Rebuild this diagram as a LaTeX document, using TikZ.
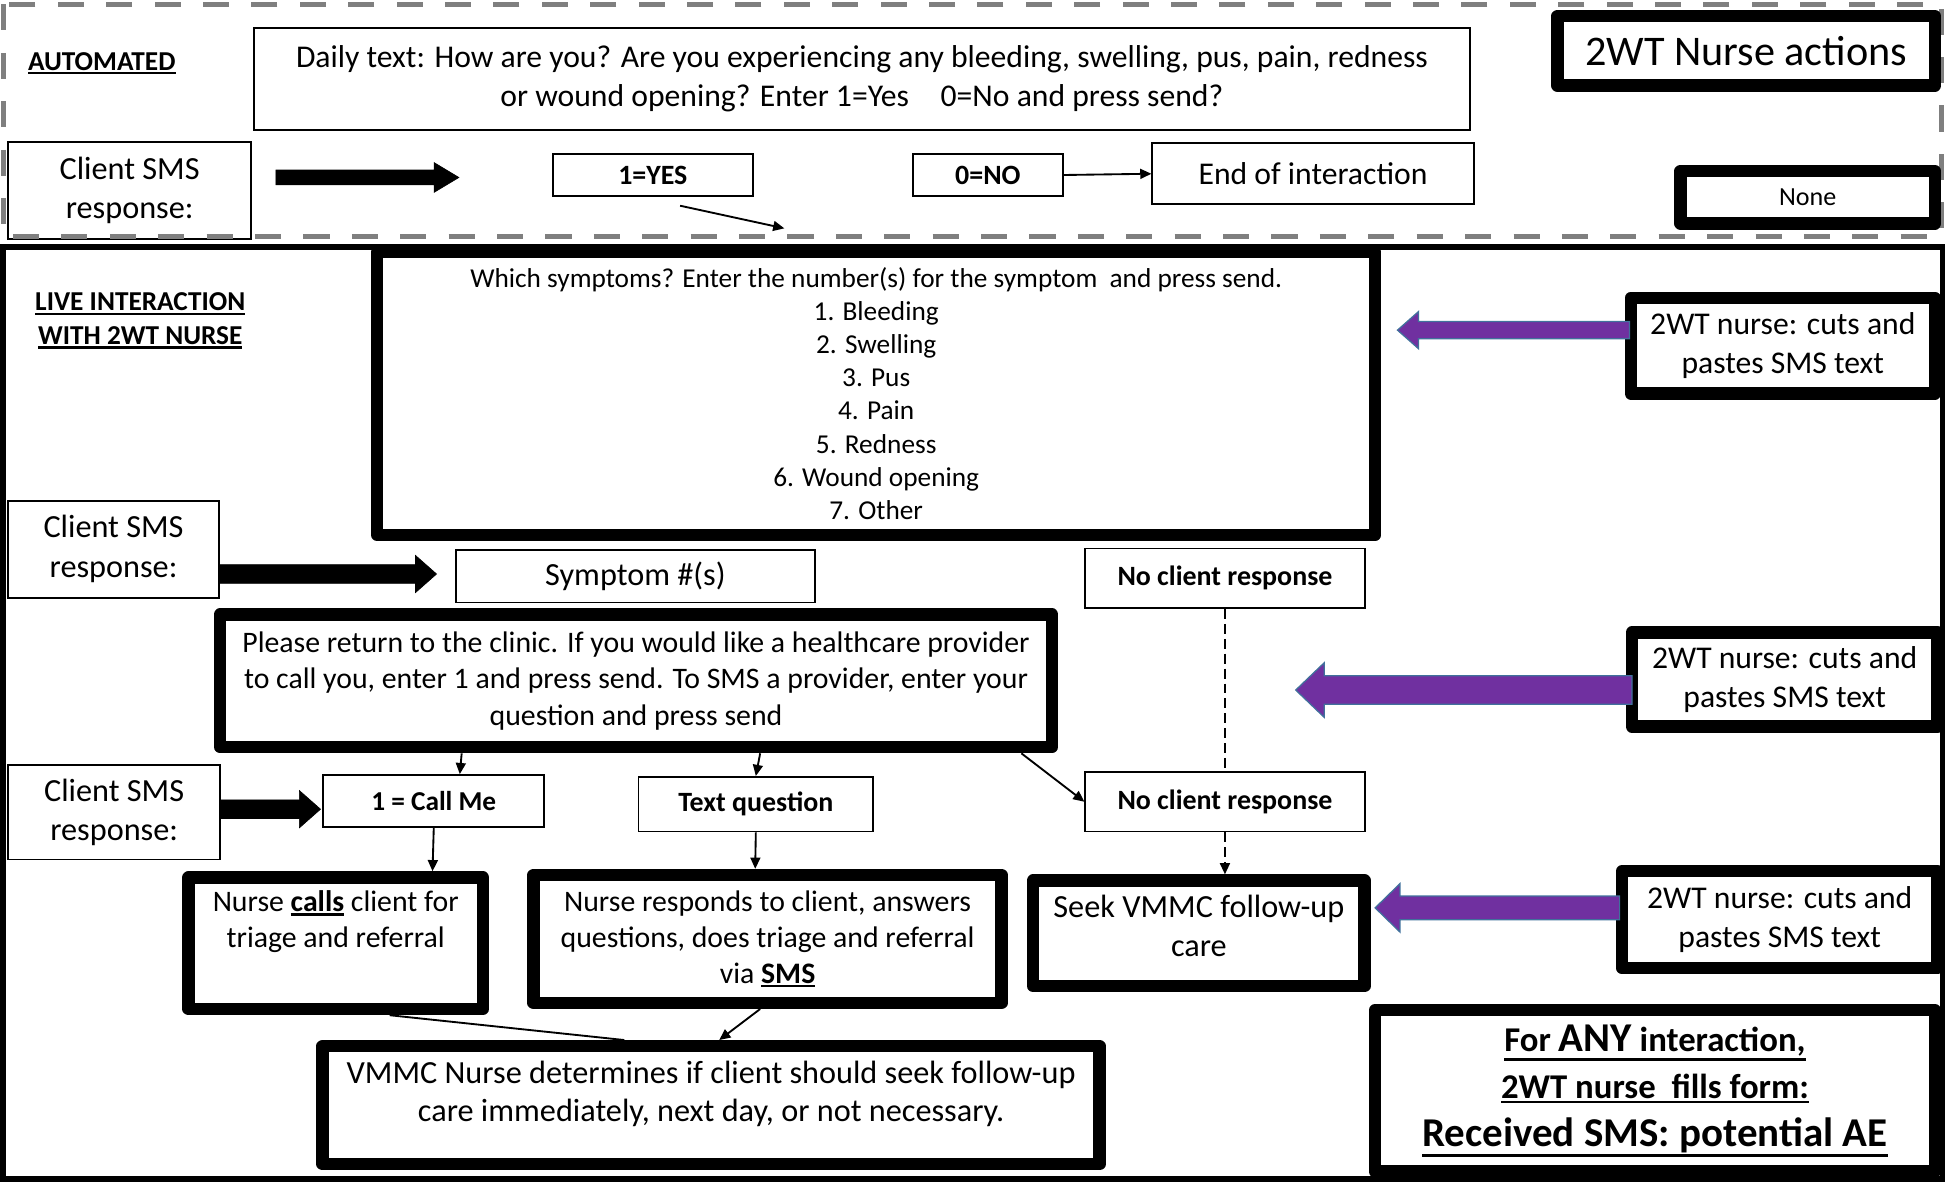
\documentclass[tikz,border=0pt]{standalone}
\usepackage{fontspec}
\setmainfont{Carlito}
\usetikzlibrary{arrows.meta,calc}
\definecolor{purp}{HTML}{7030A0}
\definecolor{purpedge}{HTML}{41719C}
\definecolor{dashgray}{HTML}{7F7F7F}
\newcommand\fsz[2]{\fontsize{#1}{#2}\selectfont}
% thicker underline placed below the text depth
\newcommand\ul[1]{\setbox0\hbox{#1}\leavevmode\rlap{\vrule height\dimexpr-\dp0-1.2pt\relax depth\dimexpr\dp0+3.2pt\relax width\wd0}\box0}
% horizontal block arrow: style, start, tip, shaft half, head half, signed head length
\newcommand\harrow[6]{%
  \filldraw[#1] let \p1=(#2), \p2=(#3) in
  (\x1,{\y1+#4}) -- ({\x2+(#6)},{\y1+#4}) -- ({\x2+(#6)},{\y1+#5}) -- (\x2,\y1)
  -- ({\x2+(#6)},{\y1-#5}) -- ({\x2+(#6)},{\y1-#4}) -- (\x1,{\y1-#4}) -- cycle;}
\begin{document}
\begin{tikzpicture}[x=1pt,y=-1pt,
  thin/.style={draw, line width=1.5pt, fill=white, align=center, inner sep=0pt},
  thickbox/.style={draw, line width=10pt, line join=round, fill=white, align=center, inner sep=0pt},
  lbl/.style={align=center, inner sep=0pt},
  conn/.style={line width=1.5pt, -{Triangle[length=9pt,width=8pt]}},
  dashconn/.style={line width=1.5pt, dash pattern=on 8pt off 4pt},
  blkarrow/.style={fill=black, draw=black, line width=0.5pt},
  parrow/.style={fill=purp, draw=purpedge, line width=1pt}]
\useasboundingbox (0,0) rectangle (1568,954);

% ---------- automated section ----------
\node[thin, minimum width=196pt, minimum height=78pt, font=\fsz{26}{32}] (csms1) at (104.5,153.5) {Client SMS\\response:};
\draw[dashgray, line width=4pt, dash pattern=on 21pt off 18pt] (2.5,3.5) rectangle (1564,190.5);
\draw[line width=4.5pt] (2.5,199) rectangle (1565,950);

\node[lbl, font=\bfseries\fsz{22}{25}] (auto) at (82,51) {\ul{AUTOMATED}};
\node[thin, minimum width=980pt, minimum height=82pt, font=\fsz{25.5}{32}] (daily) at (694.5,63.5)
  {Daily text: How are you? Are you experiencing any bleeding, swelling, pus, pain, redness\\or wound opening? Enter 1=Yes\quad 0=No and press send?};
\node[thickbox, minimum width=304pt, minimum height=56pt, font=\fsz{34}{40}] (actions) at (1407,41) {2WT Nurse actions};
\node[thin, minimum width=161pt, minimum height=34pt, font=\bfseries\fsz{22.5}{26}] (yesb) at (526,141) {1=YES};
\node[thin, minimum width=121pt, minimum height=34pt, font=\bfseries\fsz{22.5}{26}] (nob) at (796,141) {0=NO};
\node[thin, minimum width=259pt, minimum height=49pt, font=\fsz{25.5}{30}] (endi) at (1058,140) {End of interaction};
\node[thickbox, minimum width=205pt, minimum height=42pt, font=\fsz{21}{25}] (none) at (1456.5,159) {None};
\coordinate (yesend) at (632,184);

% ---------- live section ----------
\node[lbl, font=\bfseries\fsz{22}{27}] (live) at (113,258.5) {\ul{LIVE INTERACTION}\\\ul{WITH 2WT NURSE}};
\node[thickbox, minimum width=804pt, minimum height=228pt, font=\fsz{22}{26.7}] (symptoms) at (706,317)
  {Which symptoms? Enter the number(s) for the symptom\ \ and press send.\\1. Bleeding\\2. Swelling\\3. Pus\\4. Pain\\5. Redness\\6. Wound opening\\7. Other};
\node[thickbox, minimum width=245pt, minimum height=77pt, font=\fsz{25.5}{32}] (nurse1) at (1436.5,278.5) {2WT nurse: cuts and\\pastes SMS text};
\node[thin, minimum width=170pt, minimum height=78pt, font=\fsz{26}{32}] (csms2) at (91.5,442.5) {Client SMS\\response:};
\node[thin, minimum width=289pt, minimum height=42pt, font=\fsz{26}{30}] (symp) at (512,464.5) {Symptom \#(s)};
\node[thin, minimum width=225pt, minimum height=48pt, font=\bfseries\fsz{22.5}{26}] (ncr1) at (987,466) {No client response};
\node[thickbox, minimum width=670pt, minimum height=107pt, font=\fsz{24}{29.5}] (please) at (512.5,548.5)
  {Please return to the clinic. If you would like a healthcare provider\\to call you, enter 1 and press send. To SMS a provider, enter your\\question and press send};
\node[thickbox, minimum width=246pt, minimum height=76pt, font=\fsz{25.5}{32}] (nurse2) at (1438,547.5) {2WT nurse: cuts and\\pastes SMS text};
\node[thin, minimum width=171pt, minimum height=76pt, font=\fsz{26}{32}] (csms3) at (92,654.5) {Client SMS\\response:};
\node[thin, minimum width=178pt, minimum height=42pt, font=\bfseries\fsz{22}{26}] (call) at (349.5,645.5) {1 = Call Me};
\node[thin, minimum width=189pt, minimum height=44pt, font=\bfseries\fsz{22.5}{26}] (textq) at (609,648) {Text question};
\node[thin, minimum width=225pt, minimum height=48pt, font=\bfseries\fsz{22.5}{26}] (ncr2) at (987,646) {No client response};
\node[thickbox, minimum width=237pt, minimum height=106pt,
  label={[lbl, font=\fsz{24}{29}, yshift=17.5pt]center:{Nurse \textbf{\ul{calls}} client for\\triage and referral}}] (callsbox) at (270.5,760) {};
\node[thickbox, minimum width=377pt, minimum height=103pt, font=\fsz{24}{29}] (responds) at (618.5,756.5)
  {Nurse responds to client, answers\\questions, does triage and referral\\via \textbf{\ul{SMS}}};
\node[thickbox, minimum width=267pt, minimum height=85pt,
  label={[lbl, font=\fsz{26}{32}, yshift=6pt]center:{Seek VMMC follow-up\\care}}] (seek) at (966,752) {};
\node[thickbox, minimum width=254pt, minimum height=78pt, font=\fsz{25.5}{32}] (nurse3) at (1434,741) {2WT nurse: cuts and\\pastes SMS text};
\node[thickbox, minimum width=626pt, minimum height=95pt,
  label={[lbl, font=\fsz{26}{31}, yshift=9pt]center:{VMMC Nurse determines if client should seek follow-up\\care immediately, next day, or not necessary.}}] (vmmc) at (573,890.5) {};
\node[thickbox, minimum width=451pt, minimum height=130pt, font=\bfseries\fsz{28}{38}] (anyform) at (1333.5,879)
  {\ul{For {\fsz{33}{38}ANY} interaction,}\\\ul{2WT nurse\ \ fills form:}\\{\fsz{33}{38}\ul{Received SMS: potential AE}}};

% ---------- connectors ----------
\harrow{blkarrow}{[shift={(19,-10.5)}]csms1.east}{[shift={(-75,2)}]yesb.west}{6pt}{12pt}{-20pt}
\harrow{blkarrow}{[shift={(0,20)}]csms2.east}{[shift={(-15,-2)}]symp.west}{7.5pt}{15pt}{-17pt}
\harrow{blkarrow}{[shift={(0,-2.5)}]csms3.east}{[shift={(-1.5,6.5)}]call.west}{7.5pt}{15pt}{-17pt}

\draw[conn] ([shift={(22,7)}]yesb.south) -- (yesend);
\draw[conn] (nob.east) -- (endi.west);
\draw[conn] ([shift={(-140.5,0)}]please.south) -- ([shift={(21,0)}]call.north);
\draw[conn] ([shift={(100,0)}]please.south) -- (textq.north);
\draw[conn] ([shift={(310.5,0)}]please.south) -- (ncr2.west);
\draw[conn] (call.south) -- ([shift={(78,0)}]callsbox.north);
\draw[conn] (textq.south) -- ([shift={(-10,0)}]responds.north);
\draw[dashconn] (ncr1.south) -- (ncr2.north);
\draw[dashconn, -{Triangle[length=9pt,width=8pt]}] (ncr2.south) -- ([shift={(21,0)}]seek.north);
\draw[line width=1.5pt] ([shift={(43.5,0)}]callsbox.south) -- ([shift={(-70,0)}]vmmc.north);
\draw[conn] ([shift={(-6,0)}]responds.south) -- ([shift={(6.5,0)}]vmmc.north);

\harrow{parrow}{[shift={(4,-12.5)}]nurse1.west}{[shift={(13,-51)}]symptoms.east}{7pt}{15pt}{17pt}
\harrow{parrow}{[shift={(5,8.5)}]nurse2.west}{[shift={(191.5,7.5)}]please.east}{11.5pt}{22pt}{23pt}
\harrow{parrow}{[shift={(3,-9.5)}]nurse3.west}{[shift={(3.5,-20.5)}]seek.east}{9.5pt}{19.5pt}{20pt}
\end{tikzpicture}
\end{document}
